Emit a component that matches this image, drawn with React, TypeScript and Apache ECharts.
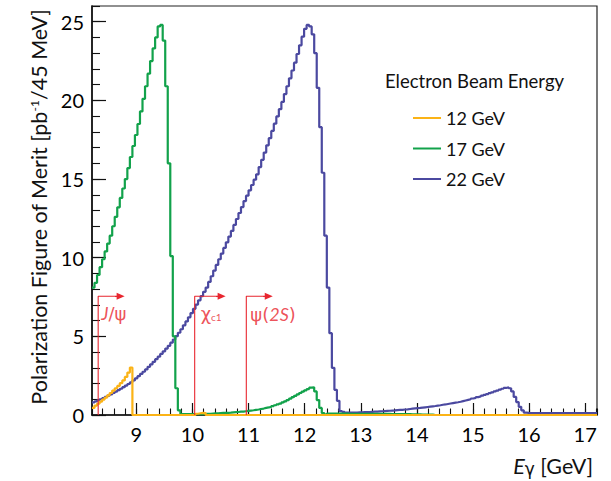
import React, { useEffect, useRef } from "react";
import * as echarts from "echarts";

const FONT = 'Lato, "Open Sans", sans-serif';

// Histogram binning: 200 bins of 45 MeV starting at 8.21 GeV
const E_MIN = 8.21;
const BIN_WIDTH = 0.045;
const N_BINS = 200;
const E_MAX = E_MIN + N_BINS * BIN_WIDTH;
const FOM_MAX = 26;

const beamEnergies = ["12 GeV", "17 GeV", "22 GeV"];
const beamColors = ["#FBB316", "#12A24B", "#4B49A0"];

// 12 GeV beam: first bin index of each non-empty stretch, then its bin contents
const fom12PeakBin = 0;
const fom12Peak = [0.45, 0.6, 0.72, 0.85, 0.98, 1.1, 1.25, 1.4, 1.55, 1.7, 1.85, 2.02, 2.2, 2.42, 2.7, 3.02];
const fom12ChiBin = 41;
const fom12Chi = [0.08, 0.11, 0.13, 0.12];

// 17 GeV beam
const fom17PeakBin = 0;
const fom17Peak = [
  8.1, 8.4, 8.9, 9.4, 9.9, 10.4, 10.9, 11.4, 12.0, 12.6,
  13.2, 13.8, 14.4, 15.0, 15.7, 16.4, 17.1, 17.8, 18.5, 19.3,
  20.1, 20.9, 21.7, 22.5, 23.3, 24.0, 24.7, 24.8, 23.8, 20.9,
  16.0, 10.1, 5.0, 1.7, 0.3, 0.05, 0.05, 0.05, 0.05, 0.05,
];
const fom17BumpBin = 40;
const fom17Bump = [
  0.05, 0.05, 0.06, 0.06, 0.07, 0.07, 0.08, 0.09, 0.1, 0.11,
  0.12, 0.13, 0.13, 0.14, 0.15, 0.17, 0.18, 0.19, 0.21, 0.22,
  0.24, 0.26, 0.28, 0.3, 0.33, 0.35, 0.38, 0.41, 0.45, 0.48,
  0.52, 0.57, 0.62, 0.67, 0.72, 0.8, 0.87, 0.95, 1.04, 1.13,
  1.22, 1.31, 1.4, 1.49, 1.57, 1.65, 1.74, 1.76, 1.5, 0.95,
  0.45, 0.12, 0.03,
];
const fom17TailBin = 93;
const fom17Tail = [
  0.09, 0.09, 0.09, 0.09, 0.09, 0.09, 0.09, 0.09, 0.08, 0.08,
  0.08, 0.08, 0.08, 0.08, 0.08, 0.08, 0.08, 0.07, 0.07, 0.07,
  0.07, 0.07, 0.07, 0.07, 0.07, 0.06, 0.06, 0.06, 0.06, 0.05,
  0.05, 0.05, 0.05, 0.04, 0.04, 0.04, 0.04, 0.03, 0.03, 0.03,
  0.02, 0.02,
];

// 22 GeV beam
const fom22PeakBin = 0;
const fom22Peak = [
  0.8, 0.86, 0.93, 1.0, 1.07, 1.15, 1.23, 1.31, 1.4, 1.49,
  1.58, 1.67, 1.77, 1.87, 1.97, 2.08, 2.2, 2.33, 2.47, 2.61,
  2.75, 2.9, 3.06, 3.22, 3.38, 3.55, 3.71, 3.88, 4.05, 4.22,
  4.4, 4.6, 4.8, 5.01, 5.23, 5.45, 5.7, 5.95, 6.21, 6.48,
  6.75, 7.02, 7.29, 7.56, 7.83, 8.1, 8.46, 8.82, 9.18, 9.54,
  9.9, 10.26, 10.62, 10.98, 11.34, 11.7, 12.08, 12.46, 12.84, 13.22,
  13.6, 13.94, 14.28, 14.62, 14.96, 15.3, 15.76, 16.22, 16.68, 17.14,
  17.6, 18.06, 18.52, 18.98, 19.44, 19.9, 20.4, 20.9, 21.4, 21.9,
  22.4, 22.95, 23.5, 24.05, 24.55, 24.8, 24.7, 24.2, 23.0, 20.8,
  18.3, 15.4, 11.4, 8.1, 5.2, 3.0, 1.6, 0.9, 0.25, 0.2,
];
const fom22TailBin = 100;
const fom22Tail = [
  0.15, 0.15, 0.15, 0.16, 0.16, 0.17, 0.17, 0.18, 0.18, 0.19,
  0.2, 0.21, 0.22, 0.23, 0.24, 0.25, 0.26, 0.27, 0.28, 0.29,
  0.31, 0.32, 0.33, 0.35, 0.36, 0.38, 0.4, 0.42, 0.44, 0.45,
  0.47, 0.49, 0.51, 0.53, 0.55, 0.57, 0.6, 0.62, 0.65, 0.67,
  0.7, 0.73, 0.76, 0.79, 0.81, 0.84, 0.88, 0.92, 0.96, 1.0,
  1.05, 1.09, 1.14, 1.18, 1.23, 1.28, 1.33, 1.39, 1.44, 1.5,
  1.55, 1.61, 1.67, 1.72, 1.76, 1.7, 1.5, 1.15, 0.82, 0.52,
  0.3, 0.15, 0.13, 0.12, 0.12, 0.12, 0.12, 0.12, 0.12, 0.12,
  0.12, 0.12, 0.12, 0.12, 0.12, 0.12, 0.12, 0.12, 0.12, 0.12,
  0.12, 0.12, 0.12, 0.12, 0.12, 0.12, 0.12, 0.12, 0.12, 0.12,
];

// Production thresholds (GeV) with the end of each arrow
const thresholdLabels = ["{it|J}{n|/ψ}", "{n|χ}{sub|c1}", "{n|ψ(}{it|2S}{n|)}"];
const thresholdEnergies = [8.32, 10.04, 10.96];
const arrowEnds = [8.72, 10.52, 11.36];
const markerHeight = 7.55;

const RED = "#E8262F";
const labelOffsets = [
  [3, 17],
  [6, 17],
  [4, 18],
];

type Segment = [number, number[]];

function histogram(segments: Segment[]): number[] {
  const bins = new Array(N_BINS).fill(0);
  segments.forEach(([first, values]) => {
    values.forEach((v, k) => {
      bins[first + k] = v;
    });
  });
  return bins;
}

// Points at bin low edges plus the final upper edge, drawn with step "end"
function stepPoints(bins: number[]): number[][] {
  const pts = bins.map((v, i) => [E_MIN + i * BIN_WIDTH, v]);
  pts.push([E_MAX, bins[bins.length - 1]]);
  return pts;
}

const hist12 = histogram([
  [fom12PeakBin, fom12Peak],
  [fom12ChiBin, fom12Chi],
]);
const hist17 = histogram([
  [fom17PeakBin, fom17Peak],
  [fom17BumpBin, fom17Bump],
  [fom17TailBin, fom17Tail],
]);
const hist22 = histogram([
  [fom22PeakBin, fom22Peak],
  [fom22TailBin, fom22Tail],
]);

function buildOption(): echarts.EChartsCoreOption {
  const axisColor = "#111";
  const histSeries = [
    { name: beamEnergies[2], data: hist22, color: beamColors[2] },
    { name: beamEnergies[1], data: hist17, color: beamColors[1] },
    { name: beamEnergies[0], data: hist12, color: beamColors[0] },
  ].map((h) => ({
    name: h.name,
    type: "line",
    step: "end",
    data: stepPoints(h.data),
    symbol: "none",
    showSymbol: false,
    color: h.color,
    lineStyle: { color: h.color, width: 2.2 },
    itemStyle: { color: h.color },
    z: 3,
  }));

  const thresholdSeries = thresholdEnergies.map((e, i) => ({
    name: "threshold" + i,
    type: "line",
    data: [
      [e, 0],
      [e, markerHeight],
      [arrowEnds[i] - 0.05, markerHeight],
    ],
    symbol: "none",
    showSymbol: false,
    lineStyle: { color: RED, width: 1.1 },
    z: 6,
    silent: true,
    markLine: {
      silent: true,
      symbol: ["none", "triangle"],
      symbolSize: [7, 8],
      label: { show: false },
      lineStyle: { color: RED, width: 1.1, type: "solid" },
      data: [
        [
          { coord: [arrowEnds[i] - 0.1, markerHeight] },
          { coord: [arrowEnds[i], markerHeight] },
        ],
      ],
    },
  }));

  const labelSeries = {
    name: "threshold labels",
    type: "scatter",
    symbolSize: 0,
    z: 7,
    silent: true,
    data: thresholdEnergies.map((e, i) => ({
      value: [e, markerHeight],
      label: {
        show: true,
        formatter: thresholdLabels[i],
        position: labelOffsets[i],
        align: "left",
        verticalAlign: "middle",
      },
    })),
    label: {
      show: true,
      rich: {
        n: { fontFamily: "DejaVu Sans", fontSize: 18, color: RED, verticalAlign: "bottom" },
        it: { fontFamily: FONT, fontStyle: "italic", fontSize: 18, color: RED, verticalAlign: "bottom" },
        sub: { fontFamily: FONT, fontSize: 10, color: RED, verticalAlign: "bottom" },
      },
    },
  };

  return {
    animation: false,
    textStyle: { fontFamily: FONT },
    grid: {
      left: 92,
      right: 14,
      top: 6,
      bottom: 66,
      show: true,
      borderColor: "#222",
      borderWidth: 1.2,
      containLabel: false,
    },
    xAxis: [
      {
        type: "value",
        min: E_MIN,
        max: E_MAX,
        minInterval: 1,
        maxInterval: 1,
        position: "bottom",
        axisLine: { show: true, onZero: false, lineStyle: { color: axisColor, width: 1.6 } },
        axisTick: { inside: true, length: 12, lineStyle: { color: axisColor, width: 1.2 } },
        axisLabel: {
          fontSize: 20,
          color: "#000",
          margin: 9,
          fontFamily: FONT,
          showMinLabel: false,
          showMaxLabel: false,
        },
        splitLine: { show: false },
      },
      {
        type: "value",
        min: E_MIN,
        max: E_MAX,
        minInterval: 0.2,
        maxInterval: 0.2,
        position: "bottom",
        axisLine: { show: false },
        axisTick: { inside: true, length: 6.5, lineStyle: { color: axisColor, width: 1.1 } },
        axisLabel: { show: false },
        splitLine: { show: false },
      },
    ],
    yAxis: [
      {
        type: "value",
        min: 0,
        max: FOM_MAX,
        interval: 5,
        position: "left",
        axisLine: { show: true, onZero: false, lineStyle: { color: axisColor, width: 1.6 } },
        axisTick: { inside: true, length: 14, lineStyle: { color: axisColor, width: 1.2 } },
        axisLabel: {
          fontSize: 20,
          color: "#000",
          margin: 8,
          fontFamily: FONT,
          showMaxLabel: false,
        },
        splitLine: { show: false },
      },
      {
        type: "value",
        min: 0,
        max: FOM_MAX,
        interval: 1,
        position: "left",
        axisLine: { show: false },
        axisTick: { inside: true, length: 8, lineStyle: { color: axisColor, width: 1.1 } },
        axisLabel: { show: false },
        splitLine: { show: false },
      },
    ],
    legend: {
      data: beamEnergies,
      orient: "vertical",
      icon: "rect",
      left: 413,
      top: 109,
      itemWidth: 28,
      itemHeight: 2,
      itemGap: 12.5,
      padding: 0,
      selectedMode: false,
      textStyle: { fontSize: 18, color: "#111", fontFamily: FONT },
    },
    graphic: [
      {
        type: "text",
        x: 39,
        y: 207,
        rotation: Math.PI / 2,
        style: {
          text: "{m|Polarization Figure of Merit [pb}{sup|-1}{m|/45 MeV]}",
          textAlign: "center",
          textVerticalAlign: "middle",
          align: "center",
          verticalAlign: "middle",
          fill: "#111",
          rich: {
            m: { fontFamily: FONT, fontSize: 21.5, verticalAlign: "top", fill: "#111" },
            sup: { fontFamily: FONT, fontSize: 12, verticalAlign: "top", fill: "#111" },
          },
        },
      },
      {
        type: "text",
        x: 593,
        y: 466,
        style: {
          text: "{e|E}{g|γ}{m| [GeV]}",
          textAlign: "right",
          textVerticalAlign: "middle",
          align: "right",
          verticalAlign: "middle",
          fill: "#111",
          rich: {
            e: { fontFamily: FONT, fontStyle: "italic", fontSize: 21.5, verticalAlign: "bottom", fill: "#111" },
            g: { fontFamily: "DejaVu Sans", fontSize: 17, verticalAlign: "bottom", fill: "#111" },
            m: { fontFamily: FONT, fontSize: 21.5, verticalAlign: "bottom", fill: "#111" },
          },
        },
      },
      {
        type: "text",
        x: 385,
        y: 80.5,
        style: {
          text: "Electron Beam Energy",
          textAlign: "left",
          textVerticalAlign: "middle",
          align: "left",
          verticalAlign: "middle",
          fontFamily: FONT,
          fontSize: 18.5,
          fill: "#111",
        },
      },
    ],
    series: [...histSeries, ...thresholdSeries, labelSeries],
  };
}

export default function App() {
  const ref = useRef<HTMLDivElement>(null);
  useEffect(() => {
    if (!ref.current) return;
    const chart = echarts.init(ref.current, null, { renderer: "svg" });
    chart.setOption(buildOption());
    return () => chart.dispose();
  }, []);
  return (
    <div
      ref={ref}
      style={{ position: "fixed", left: 0, top: 0, width: 611, height: 481, background: "#fff" }}
    />
  );
}
